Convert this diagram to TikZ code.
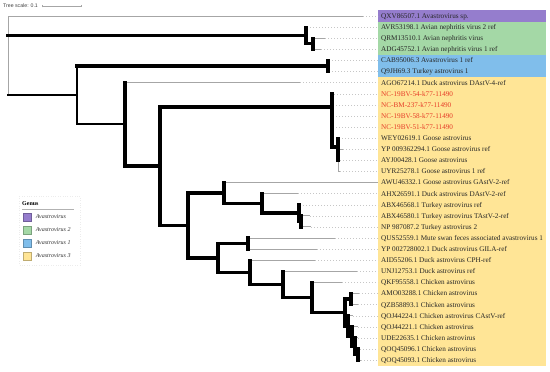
\documentclass[tikz,border=0pt]{standalone}
\usepackage{fontspec}
\setmainfont{Liberation Serif}
\newfontfamily\scalebarfont{Liberation Sans}
\usepackage{tikz}
\usetikzlibrary{arrows.meta, positioning}
\definecolor{avsp}{HTML}{957DCD}
\definecolor{avtwo}{HTML}{A4D8A6}
\definecolor{avone}{HTML}{80BEEB}
\definecolor{avthree}{HTML}{FFE596}
\definecolor{ncred}{HTML}{E63C28}

\begin{document}
\begin{tikzpicture}[
  x=1pt, y=-1pt,
  leafbr/.style={draw=gray!70, line width=0.9pt},
  midbr/.style={draw=black, line width=2pt, line cap=rect},
  boldbr/.style={draw=black, line width=3.2pt, line cap=rect},
  guide/.style={draw=gray!45, line width=0.4pt, dash pattern=on 0.8pt off 2.2pt},
  lbl/.style={anchor=base west, yshift=-2.4pt, inner xsep=3pt, inner ysep=0pt,
              font=\fontsize{7.2}{8}\selectfont, text=black!85},
  nclbl/.style={lbl, text=ncred},
  swatch/.style={draw=#1!75!black, fill=#1, minimum size=8pt, inner sep=0pt},
  legtxt/.style={font=\fontsize{6}{7}\selectfont\itshape, text=black!80, inner sep=0pt}
]
\useasboundingbox (0,0) rectangle (550,372);

\coordinate (bandedge) at (378,0);
\fill[avsp]    (378,10.45) rectangle (546,21.55);
\fill[avtwo]   (378,21.55) rectangle (546,54.85);
\fill[avone]   (378,54.85) rectangle (546,77.05);
\fill[avthree] (378,77.05) rectangle (546,365.65);

% tips
\coordinate (qxv)   at (363,16.0);
\coordinate (avr)   at (307,27.1);
\coordinate (qrm)   at (325,38.2);
\coordinate (adg)   at (321,49.3);
\coordinate (cab)   at (329,60.4);
\coordinate (qjh)   at (329,71.5);
\coordinate (ago)   at (300,82.6);
\coordinate (nc54)  at (334,93.7);
\coordinate (ncbm)  at (333,104.8);
\coordinate (nc58)  at (333,115.9);
\coordinate (nc51)  at (333,127.0);
\coordinate (wey)   at (339,138.1);
\coordinate (yp93)  at (343,149.2);
\coordinate (ayj)   at (340,160.3);
\coordinate (uyr)   at (340,171.4);
\coordinate (awu)   at (378,182.5);
\coordinate (ahx)   at (298,193.6);
\coordinate (abx68) at (300,204.7);
\coordinate (abx80) at (310,215.8);
\coordinate (np)    at (311,226.9);
\coordinate (qus)   at (335,238.0);
\coordinate (yp27)  at (317,249.1);
\coordinate (aid)   at (315,260.2);
\coordinate (unj)   at (357,271.3);
\coordinate (qkf)   at (342,282.4);
\coordinate (amo)   at (359,293.5);
\coordinate (qzb)   at (358,304.6);
\coordinate (qoj24) at (353,315.7);
\coordinate (qoj21) at (358,326.8);
\coordinate (ude)   at (358,337.9);
\coordinate (qoq96) at (360,349.0);
\coordinate (qoq93) at (361,360.1);

% inner nodes
\coordinate (root)  at (8,55.5);
\coordinate (an2)   at (306,35.4);
\coordinate (an2b)  at (313,43.75);
\coordinate (base)  at (77,95);
\coordinate (av1)   at (328,66);
\coordinate (av3)   at (125,124);
\coordinate (core)  at (160,166);
\coordinate (ncx)   at (332,107);
\coordinate (goose) at (338,147);
\coordinate (mixed) at (188,225.5);
\coordinate (gd)    at (224,193);
\coordinate (dt)    at (262,203.3);
\coordinate (tk)    at (299,213);
\coordinate (tk2)   at (301,221.35);
\coordinate (dc)    at (218,258);
\coordinate (sw)    at (248,243.55);
\coordinate (dk)    at (250,272.3);
\coordinate (dk2)   at (283,284.4);
\coordinate (ck)    at (312,297.5);
\coordinate (ck0)   at (345,312.6);
\coordinate (cka)   at (351,299.05);
\coordinate (ck1)   at (348,326.1);
\coordinate (ck2)   at (352,336.5);
\coordinate (ck3)   at (355,346.2);
\coordinate (ck4)   at (358,354.55);

\draw[guide] (qxv) -- (qxv -| bandedge) (avr) -- (avr -| bandedge)
  (qrm) -- (qrm -| bandedge) (adg) -- (adg -| bandedge)
  (cab) -- (cab -| bandedge) (qjh) -- (qjh -| bandedge)
  (ago) -- (ago -| bandedge) (nc54) -- (nc54 -| bandedge)
  (ncbm) -- (ncbm -| bandedge) (nc58) -- (nc58 -| bandedge)
  (nc51) -- (nc51 -| bandedge) (wey) -- (wey -| bandedge)
  (yp93) -- (yp93 -| bandedge) (ayj) -- (ayj -| bandedge)
  (uyr) -- (uyr -| bandedge) (ahx) -- (ahx -| bandedge)
  (abx68) -- (abx68 -| bandedge) (abx80) -- (abx80 -| bandedge)
  (np) -- (np -| bandedge) (qus) -- (qus -| bandedge)
  (yp27) -- (yp27 -| bandedge) (aid) -- (aid -| bandedge)
  (unj) -- (unj -| bandedge) (qkf) -- (qkf -| bandedge)
  (amo) -- (amo -| bandedge) (qzb) -- (qzb -| bandedge)
  (qoj24) -- (qoj24 -| bandedge) (qoj21) -- (qoj21 -| bandedge)
  (ude) -- (ude -| bandedge) (qoq96) -- (qoq96 -| bandedge)
  (qoq93) -- (qoq93 -| bandedge);

% leaf branches
\draw[leafbr] (root |- qxv) -- (qxv);
\draw[leafbr] (an2 |- avr) -- (avr);
\draw[leafbr] (an2b |- qrm) -- (qrm);
\draw[leafbr] (an2b |- adg) -- (adg);
\draw[leafbr] (av1 |- cab) -- (cab);
\draw[leafbr] (av1 |- qjh) -- (qjh);
\draw[leafbr] (av3 |- ago) -- (ago);
\draw[leafbr] (ncx |- nc54) -- (nc54);
\draw[leafbr] (ncx |- ncbm) -- (ncbm);
\draw[leafbr] (ncx |- nc58) -- (nc58);
\draw[leafbr] (ncx |- nc51) -- (nc51);
\draw[leafbr] (goose |- wey) -- (wey);
\draw[leafbr] (goose |- yp93) -- (yp93);
\draw[leafbr] (goose |- ayj) -- (ayj);
\draw[leafbr] (goose |- ayj) -- (goose |- uyr) -- (uyr);
\draw[leafbr] (gd |- awu) -- (awu);
\draw[leafbr] (dt |- ahx) -- (ahx);
\draw[leafbr] (tk |- abx68) -- (abx68);
\draw[leafbr] (tk2 |- abx80) -- (abx80);
\draw[leafbr] (tk2 |- np) -- (np);
\draw[leafbr] (sw |- qus) -- (qus);
\draw[leafbr] (sw |- yp27) -- (yp27);
\draw[leafbr] (dk |- aid) -- (aid);
\draw[leafbr] (dk2 |- unj) -- (unj);
\draw[leafbr] (ck |- qkf) -- (qkf);
\draw[leafbr] (cka |- amo) -- (amo);
\draw[leafbr] (cka |- qzb) -- (qzb);
\draw[leafbr] (ck1 |- qoj24) -- (qoj24);
\draw[leafbr] (ck2 |- qoj21) -- (qoj21);
\draw[leafbr] (ck3 |- ude) -- (ude);
\draw[leafbr] (ck4 |- qoq96) -- (qoq96);
\draw[leafbr] (ck4 |- qoq93) -- (qoq93);

% spines
\draw[leafbr] (root |- qxv) -- (root |- base);
\draw[boldbr] (an2 |- avr) -- (an2 |- an2b);
\draw[boldbr] (an2b |- qrm) -- (an2b |- adg);
\draw[midbr]  (base |- av1) -- (base |- av3);
\draw[boldbr] (av1 |- cab) -- (av1 |- qjh);
\draw[boldbr] (av3 |- ago) -- (av3 |- core);
\draw[boldbr] (core |- ncx) -- (core |- mixed);
\draw[boldbr] (ncx |- nc54) -- (ncx |- goose);
\draw[boldbr] (goose |- wey) -- (goose |- ayj);
\draw[boldbr] (mixed |- gd) -- (mixed |- dc);
\draw[boldbr] (gd |- awu) -- (gd |- dt);
\draw[boldbr] (dt |- ahx) -- (dt |- tk);
\draw[boldbr] (tk |- abx68) -- (tk |- tk2);
\draw[boldbr] (tk2 |- abx80) -- (tk2 |- np);
\draw[boldbr] (dc |- sw) -- (dc |- dk);
\draw[boldbr] (sw |- qus) -- (sw |- yp27);
\draw[boldbr] (dk |- aid) -- (dk |- dk2);
\draw[boldbr] (dk2 |- unj) -- (dk2 |- ck);
\draw[boldbr] (ck |- qkf) -- (ck |- ck0);
\draw[boldbr] (ck0 |- cka) -- (ck0 |- ck1);
\draw[boldbr] (cka |- amo) -- (cka |- qzb);
\draw[boldbr] (ck1 |- qoj24) -- (ck1 |- ck2);
\draw[boldbr] (ck2 |- qoj21) -- (ck2 |- ck3);
\draw[boldbr] (ck3 |- ude) -- (ck3 |- ck4);
\draw[boldbr] (ck4 |- qoq96) -- (ck4 |- qoq93);

% inner branches
\draw[boldbr] (root |- an2) -- (an2);
\draw[midbr]  (root |- base) -- (base);
\draw[boldbr] (an2 |- an2b) -- (an2b);
\draw[boldbr] (base |- av1) -- (av1);
\draw[midbr]  (base |- av3) -- (av3);
\draw[boldbr] (av3 |- core) -- (core);
\draw[boldbr] (core |- ncx) -- (ncx);
\draw[boldbr] (ncx |- goose) -- (goose);
\draw[boldbr] (core |- mixed) -- (mixed);
\draw[boldbr] (mixed |- gd) -- (gd);
\draw[boldbr] (gd |- dt) -- (dt);
\draw[boldbr] (dt |- tk) -- (tk);
\draw[boldbr] (tk |- tk2) -- (tk2);
\draw[boldbr] (mixed |- dc) -- (dc);
\draw[boldbr] (dc |- sw) -- (sw);
\draw[boldbr] (dc |- dk) -- (dk);
\draw[boldbr] (dk |- dk2) -- (dk2);
\draw[boldbr] (dk2 |- ck) -- (ck);
\draw[boldbr] (ck |- ck0) -- (ck0);
\draw[boldbr] (ck0 |- cka) -- (cka);
\draw[boldbr] (ck0 |- ck1) -- (ck1);
\draw[boldbr] (ck1 |- ck2) -- (ck2);
\draw[boldbr] (ck2 |- ck3) -- (ck3);
\draw[boldbr] (ck3 |- ck4) -- (ck4);

% labels
\node[lbl] (qxv-l)   at (bandedge |- qxv)   {QXV86507.1 Avastrovirus sp.};
\node[lbl] (avr-l)   at (bandedge |- avr)   {AVR53198.1 Avian nephritis virus 2 ref};
\node[lbl] (qrm-l)   at (bandedge |- qrm)   {QRM13510.1 Avian nephritis virus};
\node[lbl] (adg-l)   at (bandedge |- adg)   {ADG45752.1 Avian nephritis virus 1 ref};
\node[lbl] (cab-l)   at (bandedge |- cab)   {CAB95006.3 Avastrovirus 1 ref};
\node[lbl] (qjh-l)   at (bandedge |- qjh)   {Q9JH69.3 Turkey astrovirus 1};
\node[lbl] (ago-l)   at (bandedge |- ago)   {AGO67214.1 Duck astrovirus DAstV-4-ref};
\node[nclbl] (nc54-l) at (bandedge |- nc54) {NC-19BV-54-k77-11490};
\node[nclbl] (ncbm-l) at (bandedge |- ncbm) {NC-BM-237-k77-11490};
\node[nclbl] (nc58-l) at (bandedge |- nc58) {NC-19BV-58-k77-11490};
\node[nclbl] (nc51-l) at (bandedge |- nc51) {NC-19BV-51-k77-11490};
\node[lbl] (wey-l)   at (bandedge |- wey)   {WEY02619.1 Goose astrovirus};
\node[lbl] (yp93-l)  at (bandedge |- yp93)  {YP 009362294.1 Goose astrovirus ref};
\node[lbl] (ayj-l)   at (bandedge |- ayj)   {AYJ00428.1 Goose astrovirus};
\node[lbl] (uyr-l)   at (bandedge |- uyr)   {UYR25278.1 Goose astrovirus 1 ref};
\node[lbl] (awu-l)   at (bandedge |- awu)   {AWU46332.1 Goose astrovirus GAstV-2-ref};
\node[lbl] (ahx-l)   at (bandedge |- ahx)   {AHX26591.1 Duck astrovirus DAstV-2-ref};
\node[lbl] (abx68-l) at (bandedge |- abx68) {ABX46568.1 Turkey astrovirus ref};
\node[lbl] (abx80-l) at (bandedge |- abx80) {ABX46580.1 Turkey astrovirus TAstV-2-ref};
\node[lbl] (np-l)    at (bandedge |- np)    {NP 987087.2 Turkey astrovirus 2};
\node[lbl] (qus-l)   at (bandedge |- qus)   {QUS52559.1 Mute swan feces associated avastrovirus 1};
\node[lbl] (yp27-l)  at (bandedge |- yp27)  {YP 002728002.1 Duck astrovirus GILA-ref};
\node[lbl] (aid-l)   at (bandedge |- aid)   {AID55206.1 Duck astrovirus CPH-ref};
\node[lbl] (unj-l)   at (bandedge |- unj)   {UNJ12753.1 Duck astrovirus ref};
\node[lbl] (qkf-l)   at (bandedge |- qkf)   {QKF95558.1 Chicken astrovirus};
\node[lbl] (amo-l)   at (bandedge |- amo)   {AMO03288.1 Chicken astrovirus};
\node[lbl] (qzb-l)   at (bandedge |- qzb)   {QZB58893.1 Chicken astrovirus};
\node[lbl] (qoj24-l) at (bandedge |- qoj24) {QOJ44224.1 Chicken astrovirus CAstV-ref};
\node[lbl] (qoj21-l) at (bandedge |- qoj21) {QOJ44221.1 Chicken astrovirus};
\node[lbl] (ude-l)   at (bandedge |- ude)   {UDE22635.1 Chicken astrovirus};
\node[lbl] (qoq96-l) at (bandedge |- qoq96) {QOQ45096.1 Chicken astrovirus};
\node[lbl] (qoq93-l) at (bandedge |- qoq93) {QOQ45093.1 Chicken astrovirus};

% scale
\node[font=\scalebarfont\fontsize{5.2}{6}\selectfont, text=black!75, anchor=west, inner sep=0pt]
  (treescale) at (3,6) {Tree scale: 0.1};
\draw[{Bar[width=2.5pt]}-{Bar[width=2.5pt]}, gray!70, line width=0.5pt]
  ([xshift=4pt]treescale.east) -- ++(39,0);

% legend
\draw[gray!15, dotted] (19,196) rectangle (80,265);
\node[font=\fontsize{6}{7}\selectfont\bfseries, anchor=west, inner sep=0pt] (genus) at (22,204) {Genus};
\draw[gray!60, line width=0.4pt] ([yshift=-3pt]genus.south west) -- ++(52,0);
\node[swatch=avsp] (sw-sp) at (27.5,217) {};
\node[swatch=avtwo, below=4.5pt of sw-sp] (sw-two) {};
\node[swatch=avone, below=4.5pt of sw-two] (sw-one) {};
\node[swatch=avthree, below=4.5pt of sw-one] (sw-three) {};
\node[legtxt, right=4pt of sw-sp] {Avastrovirus};
\node[legtxt, right=4pt of sw-two] {Avastrovirus 2};
\node[legtxt, right=4pt of sw-one] {Avastrovirus 1};
\node[legtxt, right=4pt of sw-three] {Avastrovirus 3};

\end{tikzpicture}
\end{document}
